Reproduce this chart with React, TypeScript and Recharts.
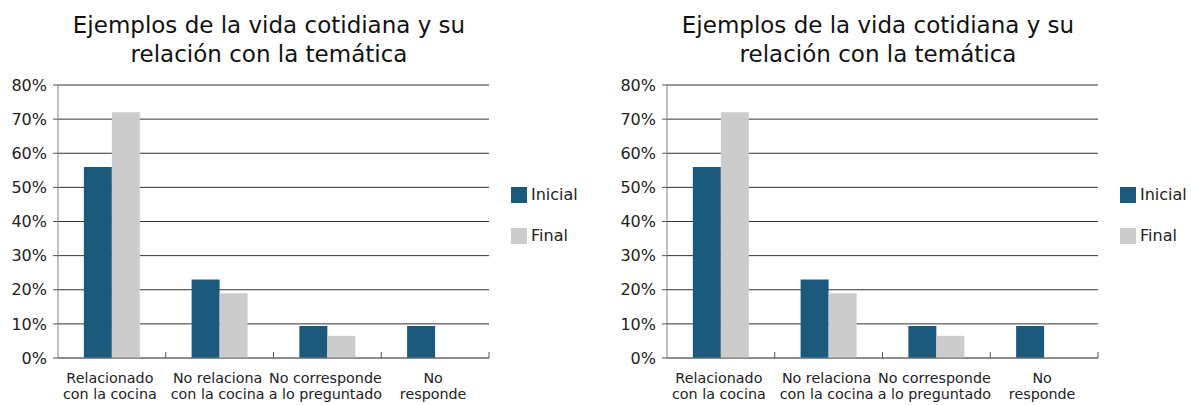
import React from 'react';
import { BarChart, Bar, XAxis, YAxis, CartesianGrid, Legend } from 'recharts';

const categories = [
  'Relacionado con la cocina',
  'No relaciona con la cocina',
  'No corresponde a lo preguntado',
  'No responde',
];

// tick labels are broken onto two lines like the original
const tickLines = [
  ['Relacionado', 'con la cocina'],
  ['No relaciona', 'con la cocina'],
  ['No corresponde', 'a lo preguntado'],
  ['No', 'responde'],
];

const seriesNames = ['Inicial', 'Final'];
const inicial = [56, 23, 9.4, 9.4];
const final = [72, 19, 6.5, 0];

const yTicks = [0, 10, 20, 30, 40, 50, 60, 70, 80];

const titleLines = ['Ejemplos de la vida cotidiana y su', 'relación con la temática'];

const data = categories.map((name, i) => ({
  name,
  Inicial: inicial[i],
  Final: final[i],
}));

const FONT = '"DejaVu Sans", sans-serif';

const CategoryTick = (props: any) => {
  const { x, y, payload, index } = props;
  const idx = payload && payload.index != null ? payload.index : index;
  const lines = tickLines[idx] || [String(payload.value)];
  const edge = x + (payload.offset || 0);
  return (
    <g>
      <line x1={edge} x2={edge} y1={y} y2={y - 6} stroke="#555" />
      <text x={x - 2} y={y} textAnchor="middle" fontSize={14.3} fill="#222" fontFamily={FONT}>
        {lines.map((l, i) => (
          <tspan key={i} x={x - 2} dy={i === 0 ? 25 : 16}>
            {l}
          </tspan>
        ))}
      </text>
    </g>
  );
};

const LegendBox = (props: any) => {
  const items = [...(props.payload || [])].sort(
    (a: any, b: any) => seriesNames.indexOf(a.value) - seriesNames.indexOf(b.value)
  );
  return (
    <div style={{ fontFamily: FONT }}>
      {items.map((item: any) => (
        <div
          key={item.value}
          style={{ display: 'flex', alignItems: 'flex-end', height: 16, marginBottom: 25 }}
        >
          <span style={{ width: 16, height: 16, background: item.color, display: 'inline-block' }} />
          <span style={{ fontSize: 16, lineHeight: '16px', marginLeft: 4, color: '#222' }}>
            {item.value}
          </span>
        </div>
      ))}
    </div>
  );
};

const Chart: React.FC<{ left: number }> = ({ left }) => (
  <div style={{ position: 'absolute', left, top: 0, width: 609, height: 405 }}>
    <div
      style={{
        position: 'absolute',
        left: 0,
        top: 11,
        width: 538,
        textAlign: 'center',
        fontFamily: FONT,
        fontSize: 23,
        lineHeight: '29px',
        color: '#111',
      }}
    >
      {titleLines.map((t) => (
        <div key={t}>{t}</div>
      ))}
    </div>
    <BarChart
      width={609}
      height={405}
      data={data}
      margin={{ top: 85, right: 120, bottom: 0, left: 0 }}
      barCategoryGap="24%"
      barGap={0}
    >
      <CartesianGrid vertical={false} stroke="#333" />
      <XAxis
        dataKey="name"
        height={47}
        tickLine={false}
        tickSize={0}
        tickMargin={0}
        interval={0}
        axisLine={{ stroke: '#808080' }}
        tick={<CategoryTick />}
      />
      <YAxis
        width={58}
        domain={[0, 80]}
        ticks={yTicks}
        interval={0}
        tickFormatter={(v) => `${v}%`}
        tickSize={5}
        tickMargin={6}
        axisLine={{ stroke: '#808080' }}
        tickLine={{ stroke: '#555' }}
        tick={{ fontSize: 16, fill: '#222', fontFamily: FONT }}
      />
      <Legend
        layout="vertical"
        align="center"
        verticalAlign="middle"
        content={<LegendBox />}
        wrapperStyle={{ left: 511, top: 187, width: 90 }}
      />
      <Bar dataKey="Inicial" fill="#1B5A7C" isAnimationActive={false} />
      <Bar dataKey="Final" fill="#CCCCCC" isAnimationActive={false} />
    </BarChart>
  </div>
);

export default function App() {
  return (
    <div style={{ position: 'absolute', left: 0, top: 0, width: 1191, height: 405, overflow: 'hidden', background: '#fff' }}>
      <Chart left={0} />
      <Chart left={609} />
    </div>
  );
}
